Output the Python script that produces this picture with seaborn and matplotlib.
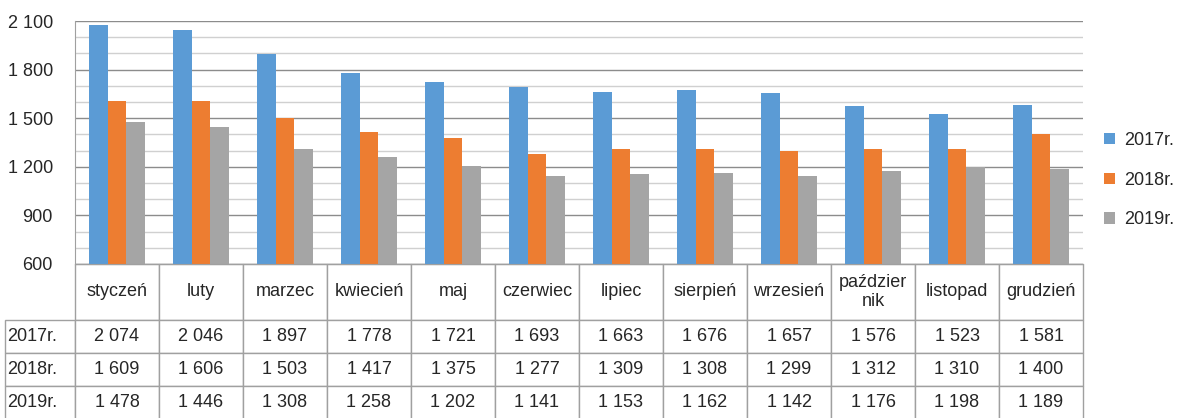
import matplotlib
matplotlib.use('Agg')
import matplotlib.pyplot as plt
import seaborn as sns
import pandas as pd
from matplotlib.ticker import MultipleLocator, FuncFormatter

months = ['styczeń', 'luty', 'marzec', 'kwiecień', 'maj', 'czerwiec', 'lipiec',
          'sierpień', 'wrzesień', 'paździer\nnik', 'listopad', 'grudzień']
years = ['2017r.', '2018r.', '2019r.']
v2017 = [2074, 2046, 1897, 1778, 1721, 1693, 1663, 1676, 1657, 1576, 1523, 1581]
v2018 = [1609, 1606, 1503, 1417, 1375, 1277, 1309, 1308, 1299, 1312, 1310, 1400]
v2019 = [1478, 1446, 1308, 1258, 1202, 1141, 1153, 1162, 1142, 1176, 1198, 1189]
colors = ['#5B9BD5', '#ED7D31', '#A5A5A5']

sns.set_style('white')
plt.rcParams['font.family'] = ['Liberation Sans', 'DejaVu Sans']

series = [v2017, v2018, v2019]
df = pd.DataFrame({
    'miesiac': months * 3,
    'rok': [y for y in years for _ in months],
    'wartosc': v2017 + v2018 + v2019,
})

def fmt(v):
    return f'{int(v):,}'.replace(',', ' ')

W, H = 1008, 243  # plot area in px
fig = plt.figure(figsize=(11.8, 4.18), dpi=100)
ax = fig.add_axes([75 / 1180, 1 - 264 / 418, W / 1180, H / 418])

sns.barplot(data=df, x='miesiac', y='wartosc', hue='rok', palette=colors,
            width=0.667, gap=0, ax=ax, saturation=1, edgecolor='none')

ax.set_ylim(600, 2100)
ax.yaxis.set_major_locator(MultipleLocator(300))
ax.yaxis.set_minor_locator(MultipleLocator(100))
ax.yaxis.set_major_formatter(FuncFormatter(lambda v, p: fmt(v)))
ax.grid(which='major', axis='y', color='#8c8c8c', lw=1)
ax.grid(which='minor', axis='y', color='#d0d0d0', lw=1)
ax.set_axisbelow(True)
ax.tick_params(axis='y', labelsize=13, pad=16, length=0, which='both')
ax.set_xticks([])
ax.set_xlabel('')
ax.set_ylabel('')
for s in ['top', 'right']:
    ax.spines[s].set_visible(False)
ax.spines['left'].set_color('#a0a0a0')
ax.spines['bottom'].set_color('#a0a0a0')

sns.move_legend(ax, loc='center left', bbox_to_anchor=(1.005, 0.345), frameon=False,
                title=None, fontsize=13, handlelength=0.6, handleheight=0.6,
                labelspacing=1.25, handletextpad=0.5)

# data table under the plot; bbox covers the 12 month columns only
cell_text = [[fmt(v) for v in s] for s in series]
tab = ax.table(cellText=cell_text, rowLabels=years, colLabels=months,
               cellLoc='center', rowLoc='left',
               bbox=[0, -155 / H, 1, 155 / H])
tab._autoColumns = []
tab.auto_set_font_size(False)
tab.set_fontsize(13)
for (r, c), cell in tab.get_celld().items():
    cell.set_edgecolor('#a0a0a0')
    cell.set_linewidth(1)
    cell.set_width((70 if c == -1 else 84) / W)
    cell.set_height((56 if r == 0 else 33) / H)
    if c == -1:
        cell.PAD = 0.03

fig.savefig('out.png', dpi=100)
